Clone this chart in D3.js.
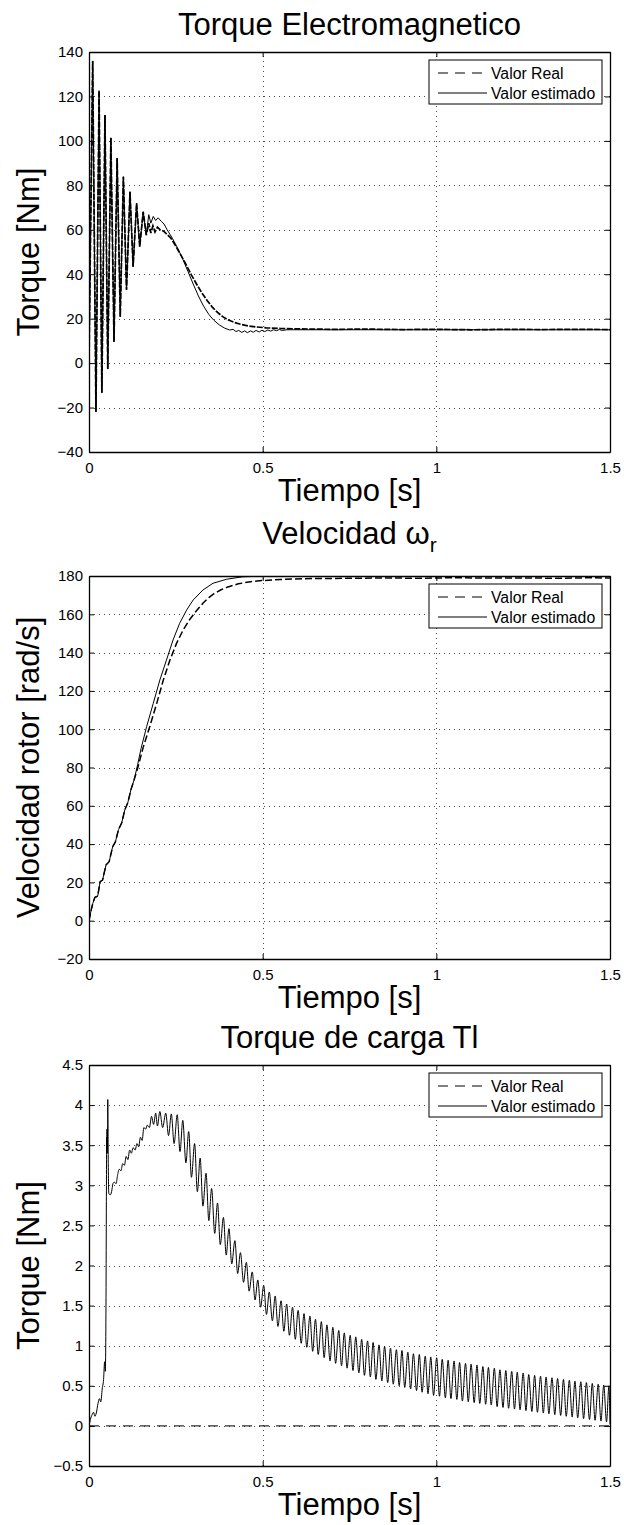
<!DOCTYPE html>
<html>
<head>
<meta charset="utf-8">
<script src="https://cdn.jsdelivr.net/npm/d3@7"></script>
<style>
body { margin: 0; background: #fff; }
svg text { font-family: "Liberation Sans", Arial, Helvetica, sans-serif; fill: #000; }
</style>
</head>
<body>
<svg id="fig" width="624" height="1525"></svg>
<script>
// time axis shared by the three panels
var xTicks = [0, 0.5, 1, 1.5];
var teTicks = [-40, -20, 0, 20, 40, 60, 80, 100, 120, 140];
var wTicks = [-20, 0, 20, 40, 60, 80, 100, 120, 140, 160, 180];
var tlTicks = [-0.5, 0, 0.5, 1, 1.5, 2, 2.5, 3, 3.5, 4, 4.5];
var legendNames = ['Valor Real', 'Valor estimado'];

// torque electromagnetico: start-up oscillation (both curves overlap)
var teStart = [[0,0],[0.0106,136],[0.020,-21.9],[0.029,122.6],[0.037,-13.3],[0.046,111.6],[0.054,-2.6],
  [0.063,101.4],[0.072,9.6],[0.081,92.2],[0.090,20.9],[0.099,83.9],[0.108,32.9],[0.118,77.1],
  [0.127,43.4],[0.137,71.9],[0.146,52.4],[0.156,68.1],[0.165,57.6]];
var teRealTail = [[0.172,63.0],[0.178,58.5],[0.184,61.8],[0.190,59.0],[0.197,61.2],[0.205,60.0],[0.215,59.4],
  [0.225,57.8],[0.235,56.4],[0.25,52.6],[0.265,48.5],[0.28,44.2],[0.295,39.6],[0.31,35.5],[0.325,31.6],
  [0.34,28.2],[0.355,25.2],[0.37,22.8],[0.385,20.9],[0.40,19.5],[0.42,18.2],[0.44,17.3],[0.46,16.7],
  [0.48,16.3],[0.51,15.9],[0.55,15.6],[0.6,15.4],[0.7,15.2],[0.8,15.3],[0.9,15.1],[1.0,15.2],[1.1,15.0],
  [1.2,15.2],[1.3,15.1],[1.4,15.2],[1.5,15.1]];
var teEstTail = [[0.172,66.8],[0.178,63.0],[0.185,66.0],[0.192,64.2],[0.199,65.4],[0.208,63.8],[0.216,62.6],
  [0.225,60.0],[0.24,56.2],[0.255,51.8],[0.27,46.8],[0.285,41.2],[0.30,35.6],[0.315,30.2],[0.33,25.6],
  [0.345,21.9],[0.36,19.2],[0.375,17.2],[0.39,15.8],[0.405,14.9],[0.415,15.2],[0.423,14.2],[0.431,14.7],
  [0.44,13.8],[0.448,14.5],[0.456,13.7],[0.465,14.5],[0.473,13.9],[0.481,14.7],[0.49,14.0],[0.498,14.8],
  [0.506,14.2],[0.515,14.9],[0.523,14.4],[0.531,15.0],[0.54,14.6],[0.548,15.1],[0.556,14.7],[0.57,15.0],
  [0.6,15.0],[0.8,15.0],[1.0,15.0],[1.2,15.0],[1.5,15.0]];

// velocidad del rotor
var wStart = [[0,0],[0.005,4.5],[0.011,9.1],[0.017,12.2],[0.025,12.8],[0.032,20.4],[0.039,21.2],[0.049,29.1],
  [0.058,30.8],[0.068,38.6],[0.076,41.2],[0.085,47.6],[0.094,51.0],[0.103,57.8],[0.112,61.8],[0.121,68.6],
  [0.130,73.6]];
var wRealTail = [[0.140,79.6],[0.156,90.5],[0.175,101.4],[0.195,113.5],[0.214,125.7],[0.233,136.1],
  [0.252,144.8],[0.271,151.8],[0.29,157.3],[0.31,162.0],[0.328,165.8],[0.345,168.7],[0.36,170.8],
  [0.38,172.8],[0.40,174.3],[0.43,175.9],[0.46,176.9],[0.49,177.5],[0.55,178.2],[0.65,178.7],[0.75,178.8],
  [0.85,179.0],[0.95,178.8],[1.05,179.1],[1.15,178.9],[1.25,179.0],[1.35,178.8],[1.45,179.1],[1.5,178.9]];
var wEstTail = [[0.140,81.5],[0.150,90.0],[0.166,101.4],[0.185,113.5],[0.204,125.7],[0.223,136.1],
  [0.242,146.6],[0.261,155.3],[0.281,162.2],[0.300,167.5],[0.328,172.7],[0.357,176.2],[0.396,178.3],
  [0.443,179.6],[0.49,179.9],[0.6,180],[1.5,180]];

// torque de carga
var tlReal = [[0,0],[1.5,0]];
var tlEst = [[0,0],[0.004,0.08],[0.009,0.14],[0.013,0.17],[0.017,0.12],[0.021,0.16],[0.026,0.28],[0.030,0.34],
  [0.034,0.30],[0.038,0.46],[0.042,0.58],[0.045,0.80],[0.047,0.68],[0.049,1.60],[0.050,2.80],[0.051,3.60],
  [0.0515,3.40],[0.052,3.70],[0.0525,3.40],[0.053,3.70],[0.0535,3.45],[0.054,4.07],[0.055,3.50],[0.057,2.90],
  [0.061,2.88],[0.065,2.92],[0.069,3.02],[0.073,3.04],[0.078,3.02],[0.082,3.12],[0.087,3.20],[0.092,3.18],
  [0.097,3.27],[0.102,3.25],[0.107,3.36],[0.112,3.32],[0.117,3.44],[0.122,3.40],[0.127,3.47],[0.133,3.44],
  [0.138,3.52],[0.143,3.48],[0.148,3.60],[0.153,3.56],[0.158,3.72],[0.163,3.70],[0.168,3.75],[0.174,3.72],
  [0.180,3.86],[0.186,3.76],[0.192,3.90],[0.197,3.74],
  [0.204,3.92],[0.212,3.72],[0.221,3.90],[0.229,3.62],[0.237,3.89],[0.245,3.52],[0.254,3.88],[0.262,3.42],
  [0.270,3.81],[0.279,3.28],[0.287,3.67],[0.295,3.10],[0.304,3.52],[0.312,2.92],[0.320,3.34],[0.328,2.74],
  [0.337,3.15],[0.345,2.56],[0.353,2.96],[0.362,2.40],[0.370,2.78],[0.378,2.26],[0.387,2.60],[0.395,2.13],
  [0.403,2.46],[0.411,2.02],[0.420,2.31],[0.428,1.90],[0.436,2.16],[0.445,1.79],[0.453,2.04],[0.461,1.68],
  [0.470,1.92],[0.478,1.57],[0.486,1.82],[0.494,1.48],[0.503,1.75],[0.511,1.39],[0.519,1.67],[0.528,1.31],
  [0.536,1.62],[0.544,1.24],[0.553,1.56],[0.561,1.18],[0.569,1.52],[0.577,1.13],[0.586,1.48],[0.594,1.08],
  [0.602,1.44],[0.611,1.03],[0.619,1.40],[0.627,0.98],[0.636,1.37],[0.644,0.93],[0.652,1.33],[0.660,0.89],
  [0.669,1.30],[0.677,0.85],[0.685,1.26],[0.694,0.81],[0.702,1.23],[0.710,0.78],[0.719,1.19],[0.727,0.75],
  [0.735,1.16],[0.743,0.72],[0.752,1.13],[0.760,0.69],[0.768,1.11],[0.777,0.66],[0.785,1.08],[0.793,0.63],
  [0.802,1.06],[0.810,0.61],[0.818,1.04],[0.826,0.58],[0.835,1.01],[0.843,0.56],[0.851,0.99],[0.860,0.54],
  [0.868,0.97],[0.876,0.52],[0.885,0.95],[0.893,0.50],[0.901,0.94],[0.909,0.48],[0.918,0.92],[0.926,0.46],
  [0.934,0.90],[0.943,0.44],[0.951,0.89],[0.959,0.42],[0.968,0.87],[0.976,0.40],[0.984,0.86],[0.992,0.38],
  [1.001,0.85],[1.009,0.37],[1.017,0.83],[1.026,0.35],[1.034,0.82],[1.042,0.34],[1.051,0.81],[1.059,0.33],
  [1.067,0.79],[1.075,0.31],[1.084,0.78],[1.092,0.30],[1.100,0.77],[1.109,0.29],[1.117,0.76],[1.125,0.28],
  [1.134,0.74],[1.142,0.27],[1.150,0.73],[1.158,0.26],[1.167,0.72],[1.175,0.24],[1.183,0.70],[1.192,0.23],
  [1.200,0.69],[1.208,0.22],[1.217,0.68],[1.225,0.21],[1.233,0.67],[1.241,0.20],[1.250,0.66],[1.258,0.19],
  [1.266,0.64],[1.275,0.18],[1.283,0.63],[1.291,0.17],[1.300,0.62],[1.308,0.16],[1.316,0.61],[1.324,0.15],
  [1.333,0.60],[1.341,0.14],[1.349,0.59],[1.358,0.13],[1.366,0.58],[1.374,0.12],[1.383,0.57],[1.391,0.11],
  [1.399,0.56],[1.407,0.10],[1.416,0.55],[1.424,0.09],[1.432,0.54],[1.441,0.08],[1.449,0.53],[1.457,0.07],
  [1.466,0.52],[1.474,0.06],[1.482,0.51],[1.490,0.05],[1.497,0.50],[1.500,0.02]];

var svg = d3.select('#fig');
svg.append('rect').attr('width', 624).attr('height', 1525).attr('fill', '#fff');

var left = 89, right = 610, midX = (left + right) / 2;
var bigFont = 31;

function fmt(d) { return String(d).replace('-', '\u2212'); }

var panels = [
  { id: 'te', top: 52, bottom: 452, yDomain: [-40, 140], yTicks: teTicks, titleY: 35,
    title: 'Torque Electromagnetico', ylabel: 'Torque [Nm]',
    real: teStart.concat(teRealTail), est: teStart.concat(teEstTail),
    realDash: '6,1.5', realWidth: 1.7, curve: d3.curveLinear },
  { id: 'w', top: 576, bottom: 959, yDomain: [-20, 180], yTicks: wTicks, titleY: 544,
    title: 'Velocidad \u03c9', sub: 'r', ylabel: 'Velocidad rotor [rad/s]',
    real: wStart.concat(wRealTail), est: wStart.concat(wEstTail),
    realDash: '7,3', realWidth: 1.5, curve: d3.curveLinear },
  { id: 'tl', top: 1065, bottom: 1466, yDomain: [-0.5, 4.5], yTicks: tlTicks, titleY: 1048,
    title: 'Torque de carga Tl', ylabel: 'Torque [Nm]',
    real: tlReal, est: tlEst,
    realDash: '10,7', realWidth: 1, curve: d3.curveMonotoneX }
];

panels.forEach(drawPanel);

function drawPanel(p) {
  var g = svg.append('g');
  var x = d3.scaleLinear().domain([0, 1.5]).range([left, right]);
  var y = d3.scaleLinear().domain(p.yDomain).range([p.bottom, p.top]);

  // dotted grid
  var grid = g.append('g').attr('stroke', '#000').attr('stroke-width', 1)
    .attr('stroke-dasharray', '1,4').attr('opacity', 0.7);
  grid.selectAll('.gx').data(xTicks.slice(1, -1)).enter().append('line')
    .attr('x1', function (d) { return Math.round(x(d)) + 0.5; })
    .attr('x2', function (d) { return Math.round(x(d)) + 0.5; })
    .attr('y1', p.bottom).attr('y2', p.top);
  grid.selectAll('.gy').data(p.yTicks.slice(1, -1)).enter().append('line')
    .attr('y1', function (d) { return Math.round(y(d)) + 0.5; })
    .attr('y2', function (d) { return Math.round(y(d)) + 0.5; })
    .attr('x1', left).attr('x2', right);

  // curves
  g.append('clipPath').attr('id', 'clip-' + p.id).append('rect')
    .attr('x', left).attr('y', p.top).attr('width', right - left).attr('height', p.bottom - p.top);
  var line = d3.line().x(function (d) { return x(d[0]); }).y(function (d) { return y(d[1]); }).curve(p.curve);
  var plot = g.append('g').attr('clip-path', 'url(#clip-' + p.id + ')').attr('fill', 'none').attr('stroke', '#000');
  plot.append('path').datum(p.real).attr('d', line)
    .attr('stroke-width', p.realWidth).attr('stroke-dasharray', p.realDash);
  plot.append('path').datum(p.est).attr('d', line).attr('stroke-width', 1);

  // axes with inward ticks on all four sides
  var fontAttrs = function (sel) {
    sel.attr('font-size', 15).attr('font-family', '"Liberation Sans", Arial, Helvetica, sans-serif');
    sel.selectAll('.domain, line').attr('stroke', '#000');
    sel.select('.domain').attr('stroke-width', 1.3);
  };
  g.append('g').attr('transform', 'translate(0,' + p.bottom + ')')
    .call(d3.axisBottom(x).tickValues(xTicks).tickFormat(fmt).tickSize(-5).tickSizeOuter(0).tickPadding(10))
    .call(fontAttrs);
  g.append('g').attr('transform', 'translate(0,' + p.top + ')')
    .call(d3.axisTop(x).tickValues(xTicks).tickFormat('').tickSize(-5).tickSizeOuter(0))
    .call(fontAttrs);
  g.append('g').attr('transform', 'translate(' + left + ',0)')
    .call(d3.axisLeft(y).tickValues(p.yTicks).tickFormat(fmt).tickSize(-5).tickSizeOuter(0).tickPadding(6))
    .call(fontAttrs);
  g.append('g').attr('transform', 'translate(' + right + ',0)')
    .call(d3.axisRight(y).tickValues(p.yTicks).tickFormat('').tickSize(-5).tickSizeOuter(0))
    .call(fontAttrs);

  // legend
  var lx = right - 8 - 173, ly = p.top + 8;
  var lg = g.append('g').attr('transform', 'translate(' + lx + ',' + ly + ')');
  lg.append('rect').attr('width', 173).attr('height', 44).attr('fill', '#fff').attr('stroke', '#000');
  legendNames.forEach(function (name, i) {
    var ry = 13 + i * 20;
    lg.append('line').attr('x1', 9).attr('x2', 58).attr('y1', ry).attr('y2', ry)
      .attr('stroke', '#000').attr('stroke-dasharray', i === 0 ? '10,7' : null);
    lg.append('text').attr('x', 62).attr('y', ry + 5.5).attr('font-size', 15.8).text(name);
  });

  // titles and labels
  var t = g.append('text').attr('x', midX).attr('y', p.titleY).attr('text-anchor', 'middle')
    .attr('font-size', bigFont).text(p.title);
  if (p.sub) {
    t.append('tspan').attr('font-size', 21).attr('dy', 8).text(p.sub);
  }
  g.append('text').attr('x', midX).attr('y', p.bottom + 49).attr('text-anchor', 'middle')
    .attr('font-size', bigFont).text('Tiempo [s]');
  g.append('text').attr('transform', 'translate(38.5,' + ((p.top + p.bottom) / 2) + ') rotate(-90)')
    .attr('text-anchor', 'middle').attr('font-size', bigFont).text(p.ylabel);
}
</script>
</body>
</html>
